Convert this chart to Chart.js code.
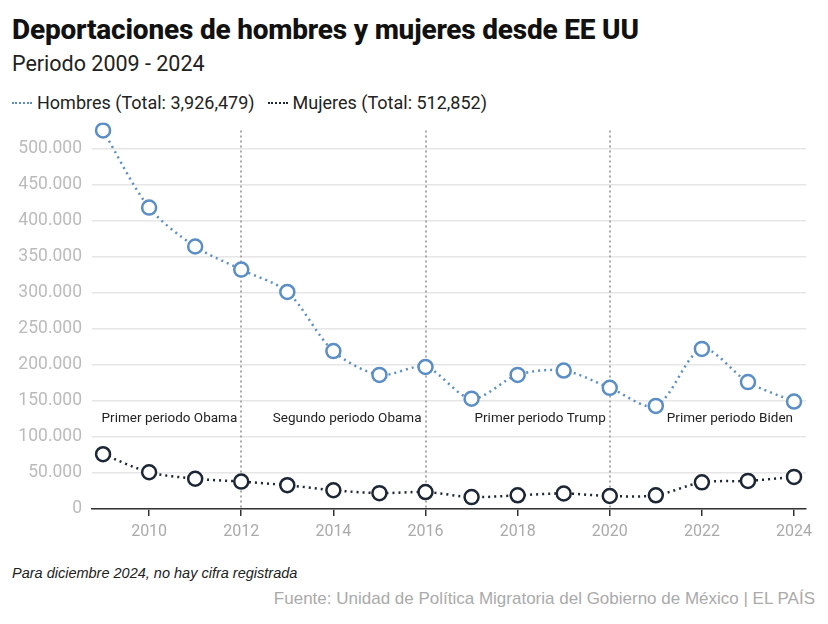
<!DOCTYPE html>
<html>
<head>
<meta charset="utf-8">
<script src="https://cdn.jsdelivr.net/npm/chart.js@4"></script>
<style>
  body { margin: 0; background: #fff; font-family: Roboto, sans-serif; }
  #wrap { position: relative; width: 828px; height: 624px; overflow: hidden; }
  h1 { position: absolute; left: 12px; top: 13px; margin: 0; font-size: 28px; font-weight: 800; color: #111; letter-spacing: -0.2px; }
  .sub { position: absolute; left: 12px; top: 51px; font-size: 21.5px; color: #222; }
  .legend { position: absolute; left: 12px; top: 92px; font-size: 18px; color: #222; display: flex; align-items: center; }
  .legend span.line { display: inline-block; width: 20px; border-top: 2.5px dotted; margin-right: 5px; }
  .legend .item { display: flex; align-items: center; margin-right: 13px; }
  #cv { position: absolute; left: 0; top: 102px; }
  .note { position: absolute; left: 12px; top: 565px; font-family: "Liberation Sans Narrow", sans-serif; font-style: italic; font-size: 14.5px; color: #222; }
  .src { position: absolute; right: 13px; top: 589px; font-family: "Liberation Sans Narrow", sans-serif; font-size: 17px; color: #aaa; }
</style>
</head>
<body>
<div id="wrap">
  <h1>Deportaciones de hombres y mujeres desde EE UU</h1>
  <div class="sub">Periodo 2009 - 2024</div>
  <div class="legend">
    <div class="item"><span class="line" style="border-color:#5b8ec4"></span>Hombres (Total: 3,926,479)</div>
    <div class="item"><span class="line" style="border-color:#1d2634"></span>Mujeres (Total: 512,852)</div>
  </div>
  <canvas id="cv" width="828" height="447"></canvas>
  <div class="note">Para diciembre 2024, no hay cifra registrada</div>
  <div class="src">Fuente: Unidad de Política Migratoria del Gobierno de México | EL PAÍS</div>
</div>
<script>
var years = [2009, 2010, 2011, 2012, 2013, 2014, 2015, 2016, 2017, 2018, 2019, 2020, 2021, 2022, 2023, 2024];
var hombres = [525000, 418000, 364000, 332000, 301000, 219000, 186000, 197000, 153000, 186000, 192000, 168000, 143000, 222000, 176000, 149000];
var mujeres = [76000, 51000, 42000, 38000, 33000, 26000, 22000, 23500, 16500, 19000, 21500, 18000, 19000, 37000, 39000, 44500];
var yTicks = [0, 50000, 100000, 150000, 200000, 250000, 300000, 350000, 400000, 450000, 500000];
var xTicks = [2010, 2012, 2014, 2016, 2018, 2020, 2022, 2024];
var dividers = [2012, 2016, 2020];
var periods = [
  { label: 'Primer periodo Obama', end: 2012 },
  { label: 'Segundo periodo Obama', end: 2016 },
  { label: 'Primer periodo Trump', end: 2020 },
  { label: 'Primer periodo Biden', end: 2024 }
];
var periodLabelY = 125000;

function toPoints(vals) {
  return years.map(function (y, i) { return { x: y, y: vals[i] }; });
}

var periodPlugin = {
  id: 'periods',
  beforeDatasetsDraw: function (chart) {
    var ctx = chart.ctx;
    var xs = chart.scales.x, ys = chart.scales.y;
    ctx.save();
    ctx.strokeStyle = '#a9a9a9';
    ctx.lineWidth = 2;
    ctx.setLineDash([2, 3]);
    dividers.forEach(function (d) {
      var px = Math.round(xs.getPixelForValue(d));
      ctx.beginPath();
      ctx.moveTo(px, ys.getPixelForValue(525000));
      ctx.lineTo(px, chart.chartArea.bottom);
      ctx.stroke();
    });
    ctx.setLineDash([]);
    ctx.fillStyle = '#222';
    ctx.font = '13.5px Roboto';
    ctx.textAlign = 'right';
    ctx.textBaseline = 'middle';
    periods.forEach(function (p) {
      var px = xs.getPixelForValue(p.end) - (p.end === 2024 ? 1 : 4);
      ctx.fillText(p.label, px, ys.getPixelForValue(periodLabelY));
    });
    ctx.restore();
  }
};

new Chart(document.getElementById('cv'), {
  type: 'line',
  data: {
    datasets: [
      {
        label: 'Hombres',
        data: toPoints(hombres),
        borderColor: '#5b8ec4',
        backgroundColor: '#fff',
        borderWidth: 2.5,
        borderDash: [2, 4],
        pointRadius: 7,
        pointBorderWidth: 2.5,
        pointBackgroundColor: '#fff',
        pointBorderColor: '#5b8ec4',
        tension: 0.3
      },
      {
        label: 'Mujeres',
        data: toPoints(mujeres),
        borderColor: '#1d2634',
        backgroundColor: '#fff',
        borderWidth: 2.5,
        borderDash: [2, 4],
        pointRadius: 7,
        pointBorderWidth: 2.5,
        pointBackgroundColor: '#fff',
        pointBorderColor: '#1d2634',
        tension: 0.3
      }
    ]
  },
  options: {
    responsive: false,
    animation: false,
    layout: { padding: { top: 0, right: 22, left: 0, bottom: 0 } },
    plugins: { legend: { display: false }, tooltip: { enabled: false } },
    scales: {
      x: {
        type: 'linear',
        min: 2008.76,
        max: 2024.26,
        afterBuildTicks: function (s) {
          s.ticks = xTicks.map(function (v) { return { value: v }; });
        },
        afterFit: function (s) { s.height = 40; },
        ticks: {
          color: '#aaa',
          font: { family: 'Roboto', size: 16 },
          padding: 6,
          callback: function (v) { return String(v); }
        },
        grid: { drawOnChartArea: false, drawTicks: true, tickLength: 7, color: '#333', lineWidth: 1.5 },
        border: { display: true, color: '#333', width: 1.5 }
      },
      y: {
        min: 0,
        max: 536000,
        afterBuildTicks: function (s) {
          s.ticks = yTicks.map(function (v) { return { value: v }; });
        },
        afterFit: function (s) { s.width = 92; },
        ticks: {
          color: '#bbb',
          font: { family: 'Roboto', size: 17.5 },
          padding: 10,
          callback: function (v) { return v === 0 ? '0' : v.toLocaleString('de-DE'); }
        },
        grid: { color: '#e6e6e6', lineWidth: 1.5, drawTicks: false },
        border: { display: false }
      }
    }
  },
  plugins: [periodPlugin]
});
</script>
</body>
</html>
